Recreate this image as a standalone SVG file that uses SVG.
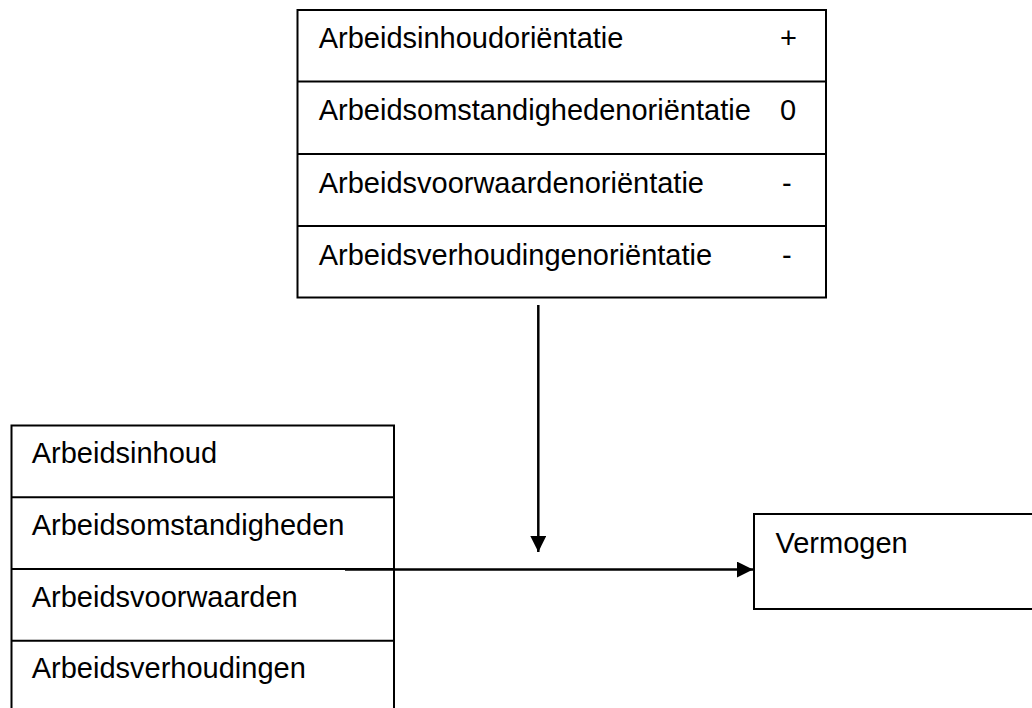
<svg xmlns="http://www.w3.org/2000/svg" width="1032" height="708" viewBox="0 0 1032 708">
<style>
.box{fill:#fff;stroke:#000;stroke-width:2}
.div{stroke:#000;stroke-width:2}
.t{font-family:"Liberation Sans",Arial,sans-serif;font-size:29px;fill:#000}
.c{stroke:#000;stroke-width:2.5;fill:none}
</style>
<defs>
<marker id="ah" viewBox="0 0 16 16" refX="16" refY="8" markerWidth="16" markerHeight="16" markerUnits="userSpaceOnUse" orient="auto">
<path d="M0,0 L16,8 L0,16 Z" fill="#000"/>
</marker>
</defs>
<rect width="1032" height="708" fill="#fff"/>
<g id="top-box">
<rect class="box" x="297.5" y="10" width="528.5" height="287.5"/>
<line class="div" x1="297.5" y1="81.5" x2="826" y2="81.5"/>
<line class="div" x1="297.5" y1="154" x2="826" y2="154"/>
<line class="div" x1="297.5" y1="226" x2="826" y2="226"/>
<text class="t" x="318.7" y="48">Arbeidsinhoudoriëntatie</text>
<text class="t" x="780" y="48">+</text>
<text class="t" x="318.7" y="120.2">Arbeidsomstandighedenoriëntatie</text>
<text class="t" x="780" y="120.2">0</text>
<text class="t" x="318.7" y="192.6">Arbeidsvoorwaardenoriëntatie</text>
<text class="t" x="782" y="192.6">-</text>
<text class="t" x="318.7" y="264.8">Arbeidsverhoudingenoriëntatie</text>
<text class="t" x="782" y="264.8">-</text>
</g>
<g id="left-box">
<rect class="box" x="11.5" y="425.5" width="382.5" height="300"/>
<line class="div" x1="11.5" y1="497.3" x2="394" y2="497.3"/>
<line class="div" x1="11.5" y1="569" x2="394" y2="569"/>
<line class="div" x1="11.5" y1="640.7" x2="394" y2="640.7"/>
<text class="t" x="31.7" y="463.2">Arbeidsinhoud</text>
<text class="t" x="31.7" y="534.8">Arbeidsomstandigheden</text>
<text class="t" x="31.7" y="606.5">Arbeidsvoorwaarden</text>
<text class="t" x="31.7" y="678.2">Arbeidsverhoudingen</text>
</g>
<g id="right-box">
<rect class="box" x="754" y="514" width="300" height="95"/>
<text class="t" x="775.5" y="552.5">Vermogen</text>
</g>
<g id="connectors">
<line class="c" x1="538.3" y1="305" x2="538.3" y2="552" marker-end="url(#ah)"/>
<line class="c" x1="345" y1="569.6" x2="753" y2="569.6" marker-end="url(#ah)"/>
</g>
</svg>
